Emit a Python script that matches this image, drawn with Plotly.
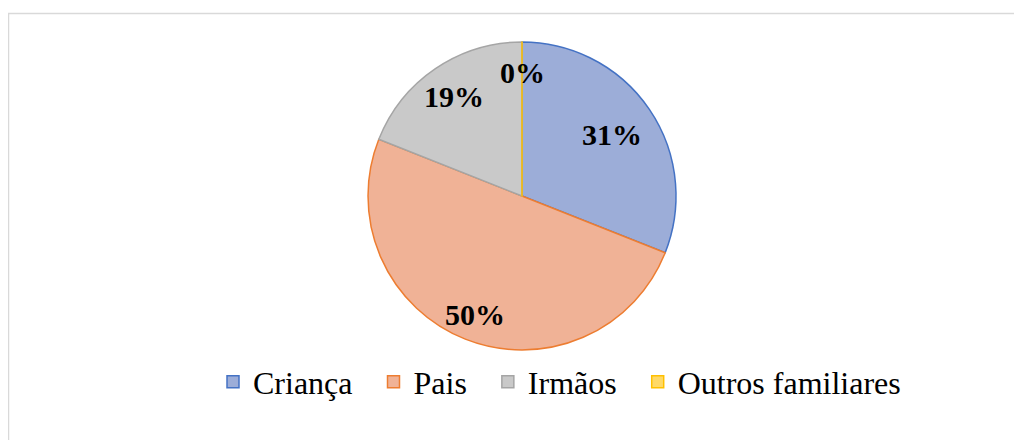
import math
import plotly.graph_objects as go

categories = ["Criança", "Pais", "Irmãos", "Outros familiares"]
values = [31, 50, 19, 0]
pct_labels = ["31%", "50%", "19%", "0%"]

fill_colors = ["#9cadd8", "#f0b296", "#c9c9c9", "#ffd966"]
edge_colors = ["#4472c4", "#ed7d31", "#a5a5a5", "#ffc000"]
label_radius = [0.71, 0.83, 0.78, 0.80]

# page body has an 8px margin, so the figure is drawn 8px smaller and offset
OFF = 8
W, H = 1022 - OFF, 440 - OFF
cx, cy, r = 522 - OFF, 196 - OFF, 154  # pixels (from top-left of the figure)

dom_x = [(cx - r) / W, (cx + r) / W]
dom_y = [(H - (cy + r)) / H, (H - (cy - r)) / H]

SERIF = "Liberation Serif"
NBSP = "\u00a0"
legend_names = [c + NBSP * 2 if i < len(categories) - 1 else c
                for i, c in enumerate(categories)]

fig = go.Figure(go.Pie(
    labels=legend_names,
    values=values,
    sort=False,
    direction="clockwise",
    rotation=0,
    textinfo="none",
    hoverinfo="label+percent",
    marker=dict(colors=fill_colors, line=dict(color=edge_colors, width=1.5)),
    domain=dict(x=dom_x, y=dom_y),
))

total = sum(values)
cum = 0
annotations = []
for v, t, f in zip(values, pct_labels, label_radius):
    mid = (cum + v / 2) / total * 2 * math.pi
    cum += v
    px = cx + f * r * math.sin(mid)
    py = cy - f * r * math.cos(mid)
    annotations.append(dict(
        x=px / W, y=1 - py / H, xref="paper", yref="paper",
        text="<b>" + t + "</b>", showarrow=False,
        font=dict(family=SERIF, size=30, color="#000000"),
        xanchor="center", yanchor="middle",
    ))

fig.update_layout(
    width=W, height=H,
    margin=dict(l=0, r=0, t=0, b=0, pad=0, autoexpand=False),
    paper_bgcolor="white",
    plot_bgcolor="white",
    font=dict(family=SERIF, color="#000000"),
    showlegend=True,
    legend=dict(
        orientation="h",
        x=205 / W, xanchor="left",
        y=1 - (382 - OFF) / H, yanchor="middle",
        font=dict(family=SERIF, size=32, color="#000000"),
        bgcolor="rgba(0,0,0,0)",
        itemclick=False,
    ),
    annotations=annotations,
    shapes=[dict(
        type="rect", xref="paper", yref="paper",
        x0=0.5 / W, x1=1.02, y0=-0.02, y1=1 - (13.5 - OFF) / H,
        line=dict(color="#d9d9d9", width=1.5),
        fillcolor="rgba(0,0,0,0)", layer="below",
    )],
)

fig.write_html("out.html")
